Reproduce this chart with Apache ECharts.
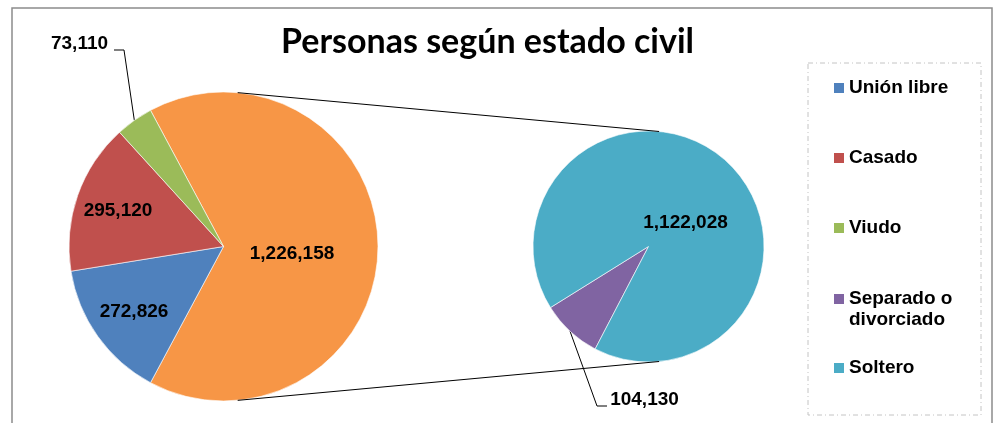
<!DOCTYPE html>
<html>
<head>
<meta charset="utf-8">
<script src="https://cdn.jsdelivr.net/npm/echarts@6/dist/echarts.min.js"></script>
<style>
html, body { margin: 0; padding: 0; background: #fff; }
#chart { width: 1000px; height: 423px; }
</style>
</head>
<body>
<div id="chart"></div>
<script>
const title = 'Personas según estado civil'
const categories = ['Unión libre', 'Casado', 'Viudo', 'Separado o divorciado', 'Soltero']
const values = [272826, 295120, 73110, 104130, 1122028]
const colors = ['#4F81BD', '#C0504D', '#9BBB59', '#8064A2', '#4BACC6']
// categories from splitFrom on are grouped in the main pie and broken out in the second one
const splitFrom = 3
const otherName = 'Otros'
const otherColor = '#F79646'

// layout
const FONT = "'Liberation Sans', Arial, sans-serif"
const mainPie = { cx: 223.5, cy: 246.5, r: 154.5 }
const subPie = { cx: 648.5, cy: 246.5, r: 115.5 }
const subStartAngle = 242.5
const labelPos = {
  'Otros': [292, 254],
  'Unión libre': [134, 312],
  'Casado': [118, 211],
  'Viudo': [79.5, 43.5],
  'Separado o divorciado': [644.5, 399.5],
  'Soltero': [685.5, 222.5],
}
const leaderBends = {
  'Viudo': [[124, 50], [114, 50]],
  'Separado o divorciado': [[597, 406], [607, 406]],
}

const otherValue = values.slice(splitFrom).reduce((a, b) => a + b, 0)
const total = values.reduce((a, b) => a + b, 0)

function item(name, value, color) {
  const outside = !!leaderBends[name]
  return {
    name, value,
    itemStyle: { color },
    label: { position: outside ? 'outside' : 'inside' },
    labelLine: { show: outside },
  }
}

const mainData = [item(otherName, otherValue, otherColor)]
  .concat(categories.slice(0, splitFrom).map((n, i) => item(n, values[i], colors[i])))
const subData = categories.slice(splitFrom).map((n, i) => item(n, values[splitFrom + i], colors[splitFrom + i]))

function layoutFor(data) {
  return (p) => {
    const name = data[p.dataIndex].name
    const pos = labelPos[name]
    const out = { x: pos[0], y: pos[1], align: 'center', verticalAlign: 'middle' }
    if (leaderBends[name] && p.labelLinePoints) {
      out.labelLinePoints = [p.labelLinePoints[0]].concat(leaderBends[name])
    }
    return out
  }
}

function pieSeries(pie, data, startAngle) {
  return {
    type: 'pie',
    center: [pie.cx, pie.cy],
    radius: pie.r,
    startAngle,
    clockwise: true,
    data,
    itemStyle: { borderColor: '#fff', borderWidth: 0.6 },
    emphasis: { disabled: true },
    label: {
      show: true,
      color: '#000',
      fontFamily: FONT,
      fontWeight: 'bold',
      fontSize: 19,
      formatter: (p) => p.value.toLocaleString('en-US'),
    },
    labelLine: { length: 10, length2: 10, lineStyle: { color: '#000', width: 1 } },
    labelLayout: layoutFor(data),
  }
}

// outer tangent lines joining the two pies
const dx = subPie.cx - mainPie.cx
const sinT = (mainPie.r - subPie.r) / dx
const cosT = Math.sqrt(1 - sinT * sinT)
function tangent(sign) {
  return {
    type: 'line', z: 10, silent: true,
    shape: {
      x1: mainPie.cx + mainPie.r * sinT, y1: mainPie.cy + sign * mainPie.r * cosT,
      x2: subPie.cx + subPie.r * sinT, y2: subPie.cy + sign * subPie.r * cosT,
    },
    style: { stroke: '#000', lineWidth: 1 },
  }
}

const legendText = { color: '#000', fontFamily: FONT, fontWeight: 'bold', fontSize: 19, lineHeight: 21 }
const legendBase = {
  orient: 'vertical', left: 834, padding: 0,
  icon: 'rect', itemWidth: 10, itemHeight: 10, itemGap: 49,
  itemStyle: { borderWidth: 0 },
  selectedMode: false, textStyle: legendText,
}

const chart = echarts.init(document.getElementById('chart'), null, { renderer: 'canvas' })
chart.setOption({
  animation: false,
  backgroundColor: '#fff',
  legend: [
    Object.assign({}, legendBase, { top: 77.5, data: categories.slice(0, splitFrom) }),
    Object.assign({}, legendBase, {
      top: 267.5, itemGap: 27,
      data: categories.slice(splitFrom),
      // two-line label with its first line beside the marker
      formatter: (n) => n.includes(' o ') ? '\n' + n.replace(' o ', ' o\n') : n,
    }),
  ],
  graphic: [
    { type: 'rect', silent: true, shape: { x: 12, y: 8, width: 980, height: 440 },
      style: { fill: null, stroke: '#8c8c8c', lineWidth: 1.5 } },
    { type: 'rect', silent: true, shape: { x: 808, y: 63, width: 173, height: 352 },
      style: { fill: null, stroke: '#c4c4c4', lineWidth: 1, lineDash: [5, 3, 1, 3] } },
    { type: 'text', silent: true, x: 487.5, y: 42,
      style: { text: title, fill: '#000', font: "bold 34px Lato, 'Open Sans', sans-serif",
        textAlign: 'center', textVerticalAlign: 'middle' } },
    tangent(-1),
    tangent(1),
  ],
  series: [
    pieSeries(mainPie, mainData, 180 * otherValue / total),
    pieSeries(subPie, subData, subStartAngle),
  ],
})
</script>
</body>
</html>
